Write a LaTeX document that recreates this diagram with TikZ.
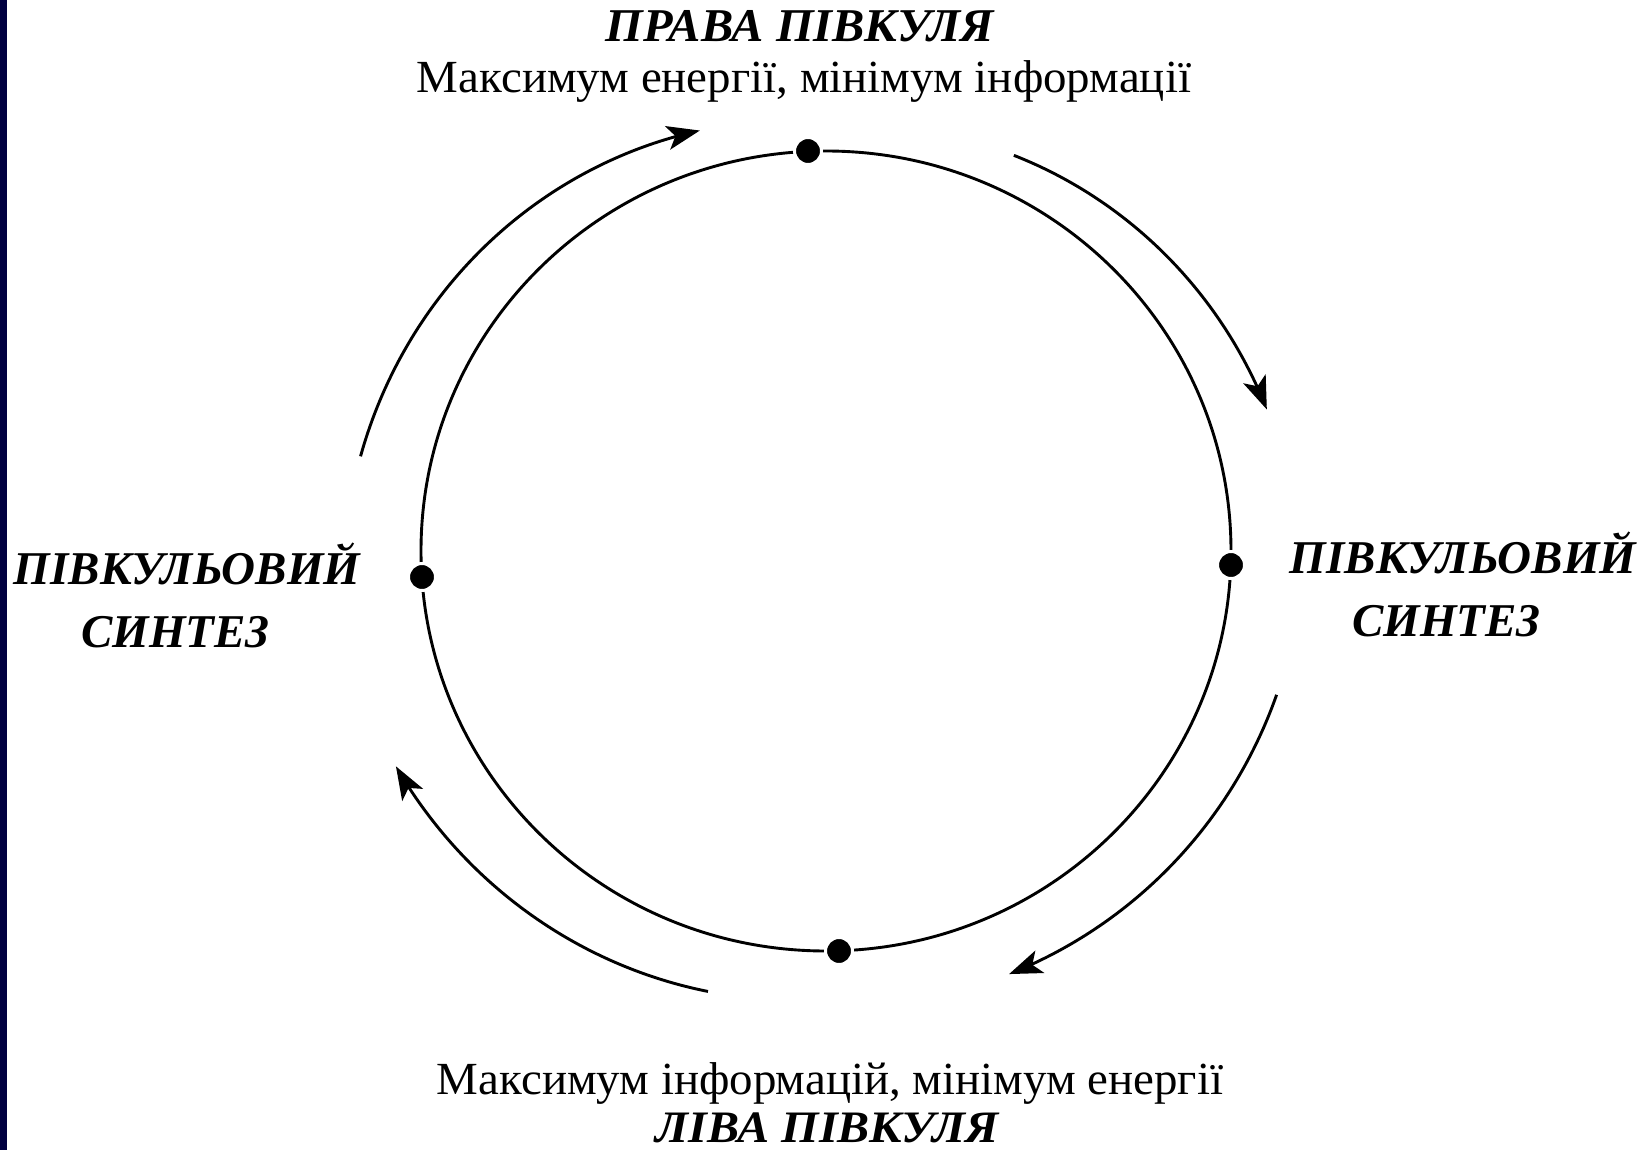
\documentclass[tikz,border=0pt]{standalone}
\usepackage{fontspec}
\setmainfont{Liberation Serif}
\usepackage{graphicx}
\usetikzlibrary{arrows.meta}
\definecolor{navyband}{RGB}{0,0,64}
\newcommand\flowarc[4]{%
  % #1 start angle, #2 end angle, #3 start radius, #4 end radius
  \draw[flow] plot[domain=#1:#2, samples=80, variable=\a]
    ({826+(#3+(#4-#3)*(\a-#1)/(#2-#1))*cos(\a)},
     {551-(#3+(#4-#3)*(\a-#1)/(#2-#1))*sin(\a)});%
}
\begin{document}
\begin{tikzpicture}[x=1pt,y=-1pt,
  dotnode/.style={circle,fill=black,draw=white,line width=3,inner sep=0,minimum size=27},
  ring/.style={line width=2.9},
  flow/.style={line width=2.9,-{Stealth[length=33,width=24,inset=8]}},
  bi/.style={font=\fontsize{47}{50}\selectfont\bfseries\itshape,inner sep=0},
  reg/.style={font=\fontsize{46}{50}\selectfont,inner sep=0}]
\useasboundingbox (0,0) rectangle (1651,1150);
\fill[white] (0,0) rectangle (1651,1150);
\fill[navyband] (0,0) rectangle (7,1150);

% main circle
\coordinate (c) at (826,551);
\draw[ring] (c) ellipse [x radius=405, y radius=400];

% dots
\node[dotnode] (top) at (808,151) {};
\node[dotnode] (right) at (1231,565) {};
\node[dotnode] (bottom) at (839,951) {};
\node[dotnode] (left) at (422,577) {};

% flow arcs
\flowarc{168.5}{106.7}{475}{439}
\flowarc{64.6}{17.8}{438}{463}
\flowarc{-17.7}{-66.6}{473}{461}
\flowarc{255}{206.6}{456}{481}

% texts
\node[bi,anchor=base] (rh) at (800,42) {\scalebox{1.03}[1]{ПРАВА ПІВКУЛЯ}};
\node[reg,anchor=base] (rhs) at (804,93) {\scalebox{1.02}[1]{Максимум енергії, мінімум інформації}};

\node[bi,anchor=base] (l1) at (187,584) {ПІВКУЛЬОВИЙ};
\node[bi,anchor=base] (l2) at (175,647) {СИНТЕЗ};
\node[bi,anchor=base] (r1) at (1463,573) {ПІВКУЛЬОВИЙ};
\node[bi,anchor=base] (r2) at (1446,636) {СИНТЕЗ};

\node[reg,anchor=base] (lhs) at (830,1094) {\scalebox{1.02}[1]{Максимум інформацій, мінімум енергії}};
\node[bi,anchor=base] (lh) at (827,1142) {\scalebox{1.07}[1]{\fontsize{45}{48}\selectfont ЛІВА ПІВКУЛЯ}};
\end{tikzpicture}
\end{document}
